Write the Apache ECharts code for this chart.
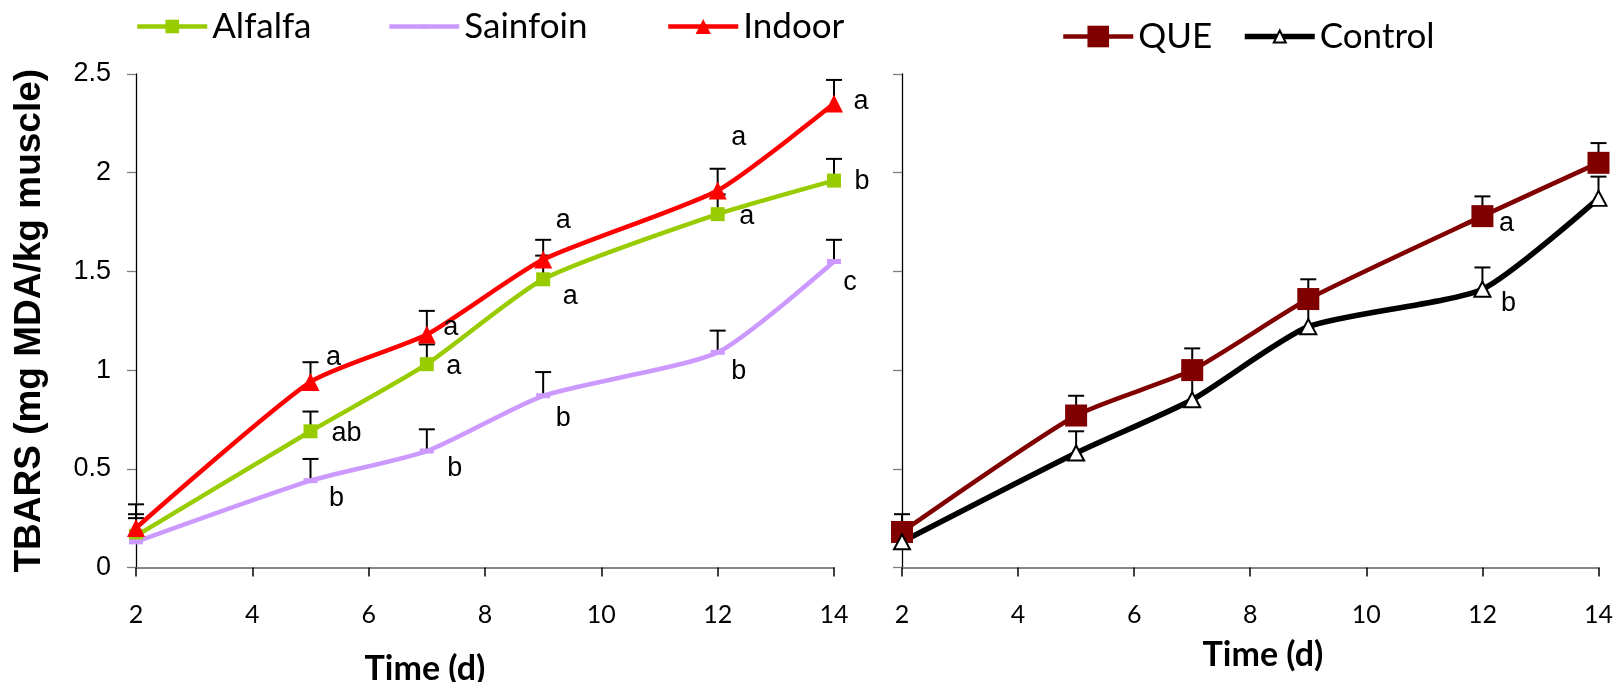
<!DOCTYPE html>
<html><head><meta charset="utf-8">
<script src="https://cdn.jsdelivr.net/npm/echarts@6/dist/echarts.min.js"></script>
<style>html,body{margin:0;padding:0;background:#fff}#c{width:1616px;height:682px}</style>
</head><body><div id="c"></div>
<script>
// ---- data ----
const days = [2, 5, 7, 9, 12, 14];
const alfalfa = [0.16, 0.69, 1.03, 1.46, 1.79, 1.96];
const alfalfaErr = [0.11, 0.10, 0.10, 0.12, 0.10, 0.11];
const alfalfaLetters = ['', 'ab', 'a', 'a', 'a', 'b'];
const sainfoin = [0.13, 0.44, 0.59, 0.87, 1.09, 1.55];
const sainfoinErr = [0.12, 0.11, 0.11, 0.12, 0.11, 0.11];
const sainfoinLetters = ['', 'b', 'b', 'b', 'b', 'c'];
const indoor = [0.20, 0.94, 1.18, 1.56, 1.91, 2.35];
const indoorErr = [0.12, 0.10, 0.12, 0.10, 0.11, 0.12];
const indoorLetters = ['', 'a', 'a', 'a', 'a', 'a'];
const que = [0.18, 0.77, 1.00, 1.36, 1.78, 2.05];
const queErr = [0.09, 0.10, 0.11, 0.10, 0.10, 0.10];
const queLetters = ['', '', '', '', 'a', ''];
const control = [0.13, 0.58, 0.85, 1.22, 1.41, 1.87];
const controlErr = [0.05, 0.11, 0.10, 0.10, 0.11, 0.11];
const controlLetters = ['', '', '', '', 'b', ''];
const yAxisTitle = 'TBARS (mg MDA/kg muscle)';
const xAxisTitle = 'Time (d)';

// ---- layout (pixel offsets of the significance letters) ----
const offs = {
  alfalfa: [null, [36, 2], [27, 2], [27, 17], [29, 2], [28, 1]],
  sainfoin: [null, [26, 18], [28, 18], [20, 23], [21, 19], [16, 21]],
  indoor: [null, [23, -24], [24, -7], [20, -39], [21, -53], [27, -2]],
  que: [null, null, null, null, [24, 7], null],
  control: [null, null, null, null, [26, 14], null]
};

const letterStyle = {fontFamily: 'Liberation Sans, Arial', fontSize: 27, color: '#000'};

function lineSeries(name, gi, vals, letters, off, color, symbol, symbolSize, itemStyle, lineWidth) {
  return {
    name: name, type: 'line', xAxisIndex: gi, yAxisIndex: gi, z: 3, clip: false,
    smooth: 0.2, symbol: symbol, symbolSize: symbolSize, showSymbol: true,
    lineStyle: {color: color, width: lineWidth},
    itemStyle: itemStyle || {color: color},
    data: days.map((d, i) => {
      const o = {value: [d, vals[i]]};
      if (letters[i]) {
        o.label = Object.assign({show: true, position: 'inside', formatter: letters[i],
          align: 'center', verticalAlign: 'middle', offset: off[i]}, letterStyle);
      }
      return o;
    }),
    emphasis: {disabled: true}
  };
}

function errSeries(gi, vals, errs) {
  return {
    type: 'custom', xAxisIndex: gi, yAxisIndex: gi, z: 2, silent: true,
    data: days.map((d, i) => [d, vals[i], vals[i] + errs[i]]),
    renderItem: function (params, api) {
      const p0 = api.coord([api.value(0), api.value(1)]);
      const p1 = api.coord([api.value(0), api.value(2)]);
      const hw = 8;
      return {type: 'group', children: [
        {type: 'line', shape: {x1: p0[0], y1: p0[1], x2: p1[0], y2: p1[1]}, style: {stroke: '#000', lineWidth: 2}},
        {type: 'line', shape: {x1: p1[0] - hw, y1: p1[1], x2: p1[0] + hw, y2: p1[1]}, style: {stroke: '#000', lineWidth: 2}}
      ]};
    }
  };
}

function xAxis(gi) {
  return {
    gridIndex: gi, type: 'value', min: 2, max: 14, interval: 2,
    splitLine: {show: false},
    axisLine: {show: true, onZero: false, lineStyle: {color: '#868686', width: 2}},
    axisTick: {show: true, length: 9, lineStyle: {color: '#000', width: 1.5}},
    axisLabel: {margin: 35, fontFamily: 'Lato', fontSize: 25, color: '#000'}
  };
}
function yAxis(gi, showLabels) {
  const a = {
    gridIndex: gi, type: 'value', min: 0, max: 2.5, interval: 0.5,
    splitLine: {show: false},
    axisLine: {show: true, lineStyle: {color: '#000', width: 1.3}},
    axisTick: {show: true, length: 9, lineStyle: {color: '#7f7f7f', width: 1.3}},
    axisLabel: {show: showLabels, margin: 25, fontFamily: 'Liberation Sans, Arial', fontSize: 27, color: '#000'}
  };
  if (showLabels) {
    a.name = yAxisTitle;
    a.nameLocation = 'middle';
    a.nameRotate = 90;
    a.nameGap = 88;
    a.nameTextStyle = {fontFamily: 'Liberation Sans, Arial', fontWeight: 'bold', fontSize: 37, color: '#000'};
  }
  return a;
}

function legend(name, left, top, itemHeight, lineWidth) {
  return {
    data: [name], left: left, top: top, padding: 0, itemWidth: 70, itemHeight: itemHeight,
    selectedMode: false,
    lineStyle: {width: lineWidth},
    textStyle: {fontFamily: 'Lato', fontSize: 35, color: '#000'}
  };
}

const controlItem = {color: '#fff', borderColor: '#000', borderWidth: 2};

const option = {
  animation: false,
  backgroundColor: '#fff',
  grid: [
    {left: 136, top: 74, right: 782, bottom: 114.5},
    {left: 902, top: 74, right: 16.5, bottom: 114.5}
  ],
  xAxis: [xAxis(0), xAxis(1)],
  yAxis: [yAxis(0, true), yAxis(1, false)],
  legend: [
    legend('Alfalfa', 135, 9, 17, 4.5),
    legend('Sainfoin', 387, 9, 5, 4.5),
    legend('Indoor', 666, 9, 19, 4.5),
    legend('QUE', 1061, 19, 27, 4.5),
    legend('Control', 1242, 19, 15, 5.5)
  ],
  graphic: [
    {type: 'text', x: 425, y: 669, style: {text: xAxisTitle, fontFamily: 'Lato', fontWeight: 'bold', fontSize: 34, fill: '#000', textAlign: 'center', textVerticalAlign: 'middle'}},
    {type: 'text', x: 1263, y: 655, style: {text: xAxisTitle, fontFamily: 'Lato', fontWeight: 'bold', fontSize: 34, fill: '#000', textAlign: 'center', textVerticalAlign: 'middle'}}
  ],
  series: [
    errSeries(0, alfalfa, alfalfaErr),
    errSeries(0, sainfoin, sainfoinErr),
    errSeries(0, indoor, indoorErr),
    errSeries(1, que, queErr),
    errSeries(1, control, controlErr),
    lineSeries('Alfalfa', 0, alfalfa, alfalfaLetters, offs.alfalfa, '#99CC00', 'rect', 14, null, 4.5),
    lineSeries('Sainfoin', 0, sainfoin, sainfoinLetters, offs.sainfoin, '#CC99FF', 'rect', [14, 5], null, 4.5),
    lineSeries('Indoor', 0, indoor, indoorLetters, offs.indoor, '#FF0000', 'triangle', 18, null, 4.5),
    lineSeries('QUE', 1, que, queLetters, offs.que, '#800000', 'rect', 22, null, 4.5),
    lineSeries('Control', 1, control, controlLetters, offs.control, '#000000', 'triangle', [16, 15], controlItem, 5.5)
  ]
};
echarts.init(document.getElementById('c'), null, {renderer: 'canvas'}).setOption(option);
</script>
</body></html>
